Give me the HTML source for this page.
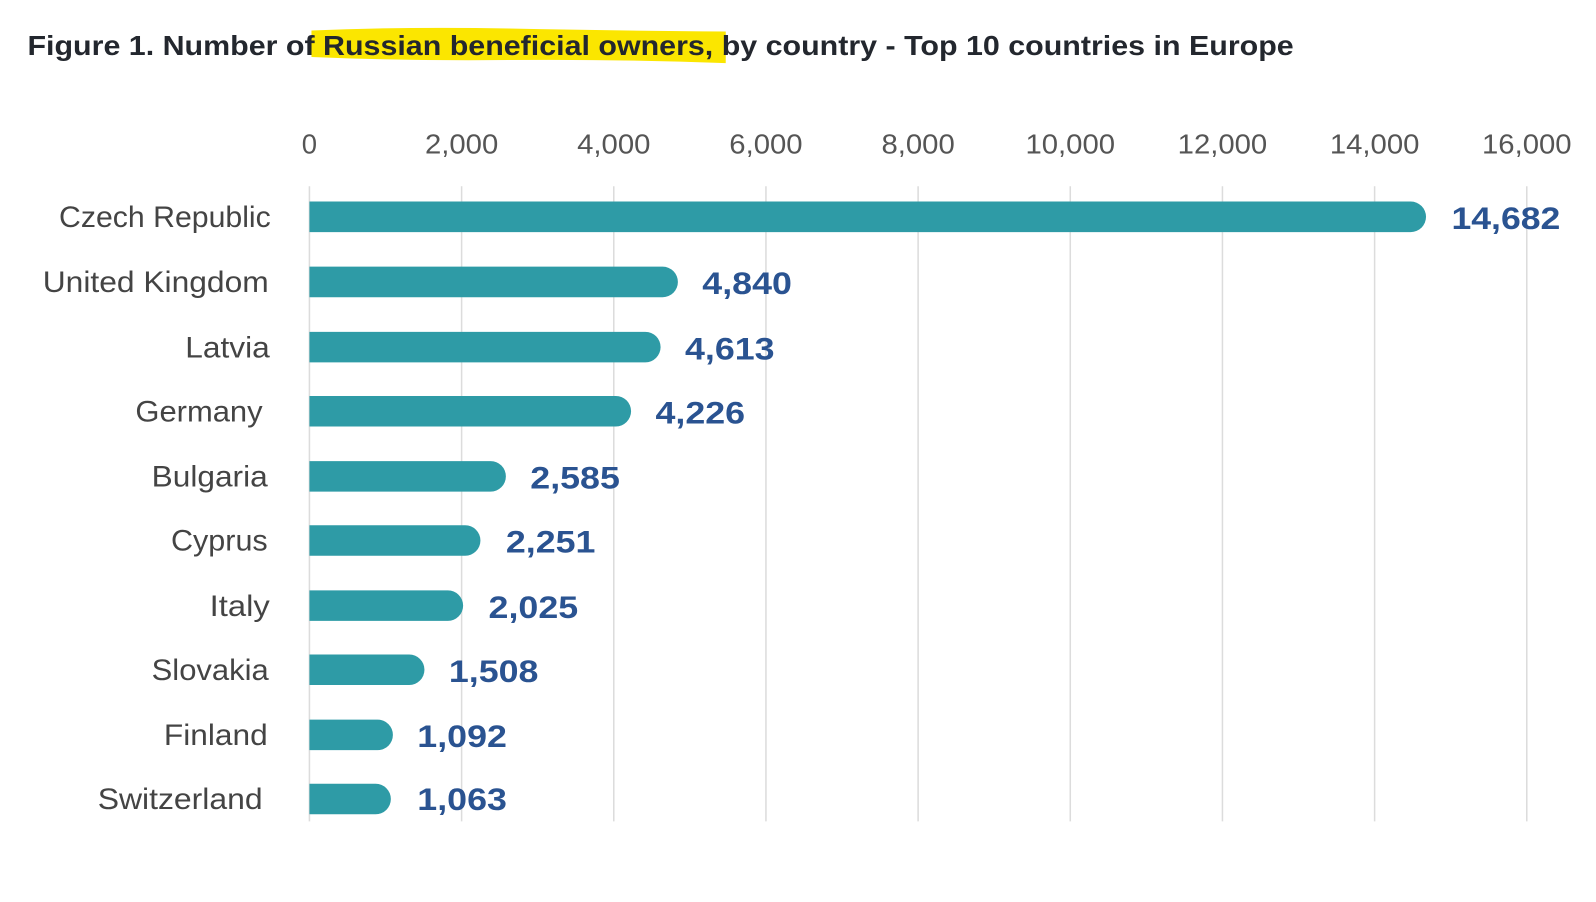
<!DOCTYPE html>
<html><head><meta charset="utf-8"><style>
html,body{margin:0;padding:0;background:#fff;}
svg{display:block;font-family:"Liberation Sans",sans-serif;}
</style></head><body>
<svg width="1596" height="902" viewBox="0 0 1596 902" xmlns="http://www.w3.org/2000/svg">
<g transform="scale(1.01786)">
<path d="M306 30 Q400 26 500 28 T713 31 L713 62 Q600 58 500 59 T306 56 Z" fill="#fbe600"/>
<text x="27" y="54" font-size="27" font-weight="bold" fill="#23272e" textLength="1244" lengthAdjust="spacingAndGlyphs">Figure 1. Number of Russian beneficial owners, by country - Top 10 countries in Europe</text>
<g stroke="#dcdcdc" stroke-width="1.5">
<line x1="304" y1="183" x2="304" y2="807"/><line x1="453.5" y1="183" x2="453.5" y2="807"/><line x1="603" y1="183" x2="603" y2="807"/><line x1="752.5" y1="183" x2="752.5" y2="807"/><line x1="902" y1="183" x2="902" y2="807"/><line x1="1051.5" y1="183" x2="1051.5" y2="807"/><line x1="1201" y1="183" x2="1201" y2="807"/><line x1="1350.5" y1="183" x2="1350.5" y2="807"/><line x1="1500" y1="183" x2="1500" y2="807"/>
</g>
<g font-size="27" fill="#555" text-anchor="middle">
<text x="304" y="151">0</text><text x="453.5" y="151" textLength="72" lengthAdjust="spacingAndGlyphs">2,000</text><text x="603" y="151" textLength="72" lengthAdjust="spacingAndGlyphs">4,000</text><text x="752.5" y="151" textLength="72" lengthAdjust="spacingAndGlyphs">6,000</text><text x="902" y="151" textLength="72" lengthAdjust="spacingAndGlyphs">8,000</text><text x="1051.5" y="151" textLength="88" lengthAdjust="spacingAndGlyphs">10,000</text><text x="1201" y="151" textLength="88" lengthAdjust="spacingAndGlyphs">12,000</text><text x="1350.5" y="151" textLength="88" lengthAdjust="spacingAndGlyphs">14,000</text><text x="1500" y="151" textLength="88" lengthAdjust="spacingAndGlyphs">16,000</text>
</g>
<g fill="#2e9ba6">
<path d="M304 198 H1386 A15 15 0 0 1 1386 228 H304 Z"/>
<path d="M304 262 H651 A15 15 0 0 1 651 292 H304 Z"/>
<path d="M304 326 H634 A15 15 0 0 1 634 356 H304 Z"/>
<path d="M304 389 H605 A15 15 0 0 1 605 419 H304 Z"/>
<path d="M304 453 H482 A15 15 0 0 1 482 483 H304 Z"/>
<path d="M304 516 H457 A15 15 0 0 1 457 546 H304 Z"/>
<path d="M304 580 H440 A15 15 0 0 1 440 610 H304 Z"/>
<path d="M304 643 H402 A15 15 0 0 1 402 673 H304 Z"/>
<path d="M304 707 H371 A15 15 0 0 1 371 737 H304 Z"/>
<path d="M304 770 H369 A15 15 0 0 1 369 800 H304 Z"/>
</g>
<g font-size="29" fill="#444" text-anchor="end">
<text x="266" y="223" textLength="208" lengthAdjust="spacingAndGlyphs">Czech Republic</text>
<text x="264" y="287" textLength="222" lengthAdjust="spacingAndGlyphs">United Kingdom</text>
<text x="265" y="351" textLength="83" lengthAdjust="spacingAndGlyphs">Latvia</text>
<text x="258" y="414" textLength="125" lengthAdjust="spacingAndGlyphs">Germany</text>
<text x="263" y="478" textLength="114" lengthAdjust="spacingAndGlyphs">Bulgaria</text>
<text x="263" y="541" textLength="95" lengthAdjust="spacingAndGlyphs">Cyprus</text>
<text x="265" y="605" textLength="59" lengthAdjust="spacingAndGlyphs">Italy</text>
<text x="264" y="668" textLength="115" lengthAdjust="spacingAndGlyphs">Slovakia</text>
<text x="263" y="732" textLength="102" lengthAdjust="spacingAndGlyphs">Finland</text>
<text x="258" y="795" textLength="162" lengthAdjust="spacingAndGlyphs">Switzerland</text>
</g>
<g font-size="31" font-weight="bold" fill="#2a5391">
<text x="1426" y="225" textLength="107" lengthAdjust="spacingAndGlyphs">14,682</text>
<text x="690" y="289" textLength="88" lengthAdjust="spacingAndGlyphs">4,840</text>
<text x="673" y="353" textLength="88" lengthAdjust="spacingAndGlyphs">4,613</text>
<text x="644" y="416" textLength="88" lengthAdjust="spacingAndGlyphs">4,226</text>
<text x="521" y="480" textLength="88" lengthAdjust="spacingAndGlyphs">2,585</text>
<text x="497" y="543" textLength="88" lengthAdjust="spacingAndGlyphs">2,251</text>
<text x="480" y="607" textLength="88" lengthAdjust="spacingAndGlyphs">2,025</text>
<text x="441" y="670" textLength="88" lengthAdjust="spacingAndGlyphs">1,508</text>
<text x="410" y="734" textLength="88" lengthAdjust="spacingAndGlyphs">1,092</text>
<text x="410" y="796" textLength="88" lengthAdjust="spacingAndGlyphs">1,063</text>
</g>
</g>
</svg>
</body></html>
